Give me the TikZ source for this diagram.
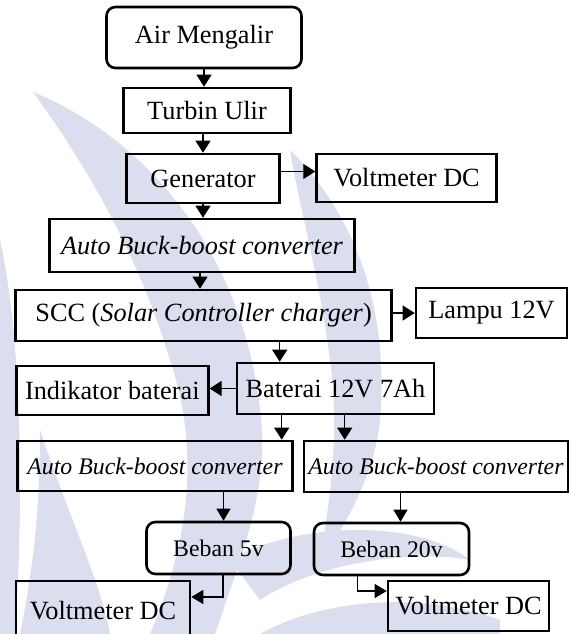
\documentclass[tikz,border=0pt]{standalone}
\usepackage{fontspec}
\setmainfont{Liberation Serif}
\usetikzlibrary{arrows.meta}
\definecolor{wm}{RGB}{218,222,238}
\newcommand{\fbig}{\fontsize{26.3}{30}\selectfont}
\newcommand{\fsmall}{\fontsize{23.8}{27}\selectfont}
\tikzset{
  box/.style={draw, line width=2.6pt, inner sep=0pt, align=center, font=\fbig},
  rbox/.style={box, rounded corners=9pt},
  sbox/.style={box, font=\fsmall},
  srbox/.style={rbox, font=\fsmall},
  arr/.style={line width=1.2pt, -{Triangle[width=15pt,length=12pt]}},
  sarr/.style={line width=1.1pt, -{Triangle[width=14pt,length=12pt]}},
}
\begin{document}
\begin{tikzpicture}[x=1pt,y=-1pt]
\useasboundingbox (0,0) rectangle (571,634);
% watermark
\begin{scope}
\fill[wm] (33,92) .. controls (150,140) and (250,260) .. (262,430)
  .. controls (265,500) and (240,560) .. (215,634) -- (150,634)
  .. controls (190,540) and (200,450) .. (170,360)
  .. controls (140,260) and (90,170) .. (33,92) -- cycle;
\fill[wm] (0,240) .. controls (20,330) and (25,480) .. (15,634) -- (0,634) -- cycle;
\fill[wm] (40,430) .. controls (70,520) and (100,580) .. (110,634) -- (20,634) .. controls (35,560) and (40,500) .. (40,430) -- cycle;
\fill[wm] (290,150) .. controls (350,210) and (390,300) .. (380,420)
  .. controls (375,470) and (350,520) .. (320,560)
  .. controls (330,500) and (340,430) .. (330,360)
  .. controls (320,280) and (300,210) .. (290,150) -- cycle;
\fill[wm] (230,560) .. controls (300,520) and (420,520) .. (470,560)
  .. controls (420,550) and (320,560) .. (260,600) -- cycle;
\fill[wm] (260,634) .. controls (320,600) and (420,590) .. (500,620) -- (500,634) -- cycle;
\end{scope}
% nodes
\node[rbox, minimum width=195, minimum height=61] (air) at (204,37.5) {Air Mengalir};
\node[box, minimum width=167, minimum height=45] (turb) at (207,110.5) {Turbin Ulir};
\node[box, minimum width=153, minimum height=49] (gen) at (203,178.5) {Generator};
\node[box, minimum width=180, minimum height=48] (volt1) at (406.6,178) {Voltmeter DC};
\node[box, minimum width=305, minimum height=53] (abb1) at (202,245.5) {\textit{Auto Buck-boost converter}};
\node[box, minimum width=376, minimum height=51] (scc) at (203.6,315.5) {SCC (\textit{Solar Controller charger})};
\node[box, minimum width=151, minimum height=50] (lampu) at (491.5,313) {Lampu 12V};
\node[box, minimum width=197, minimum height=51] (bat) at (335.5,388.5) {Baterai 12V 7Ah};
\node[box, minimum width=192, minimum height=49] (ind) at (112.3,390.5) {Indikator baterai};
\node[sbox, minimum width=275, minimum height=50] (abbL) at (155,466) {\textit{Auto Buck-boost converter}};
\node[sbox, minimum width=264, minimum height=51] (abbR) at (436,466.5) {\textit{Auto Buck-boost converter}};
\node[srbox, minimum width=144, minimum height=52] (beb5) at (218.5,548) {Beban 5v};
\node[srbox, minimum width=155, minimum height=52] (beb20) at (391.5,549) {Beban 20v};
\node[box, minimum width=174, minimum height=60] (voltL) at (103,611) {Voltmeter DC};
\node[box, minimum width=161, minimum height=50] (voltR) at (468.5,606) {Voltmeter DC};
% connectors
\draw[arr] (air.south) -- (air.south |- turb.north);
\draw[arr] (gen.north |- turb.south) -- (gen.north);
\draw[arr] (gen.south) -- (gen.south |- abb1.north);
\draw[arr] ([xshift=-2pt]abb1.south) -- ([xshift=-2pt]abb1.south |- scc.north);
\draw[arr] ([yshift=7pt]gen.east) -- ([yshift=7pt]gen.east -| volt1.west);
\draw[arr] (scc.east |- lampu.west) -- (lampu.west);
\draw[arr] ([xshift=44pt]bat.north west |- scc.south) -- ([xshift=44pt]bat.north west);
\draw[arr] (bat.west) -- (bat.west -| ind.east);
\draw[arr] ([xshift=46pt]bat.south west) -- ([xshift=46pt]bat.south west |- abbL.north);
\draw[arr] ([xshift=109pt]bat.south west) -- ([xshift=109pt]bat.south west |- abbR.north);
\draw[sarr] ([xshift=5pt]beb5.north |- abbL.south) -- ([xshift=5pt]beb5.north);
\draw[sarr] ([xshift=9pt]beb20.north |- abbR.south) -- ([xshift=9pt]beb20.north);
\draw[sarr] ([xshift=4.5pt]beb5.south) |- ([yshift=14pt]voltL.east);
\draw[sarr] ([xshift=44.5pt]beb20.south west) |- ([yshift=15pt]voltR.west);
\end{tikzpicture}
\end{document}
